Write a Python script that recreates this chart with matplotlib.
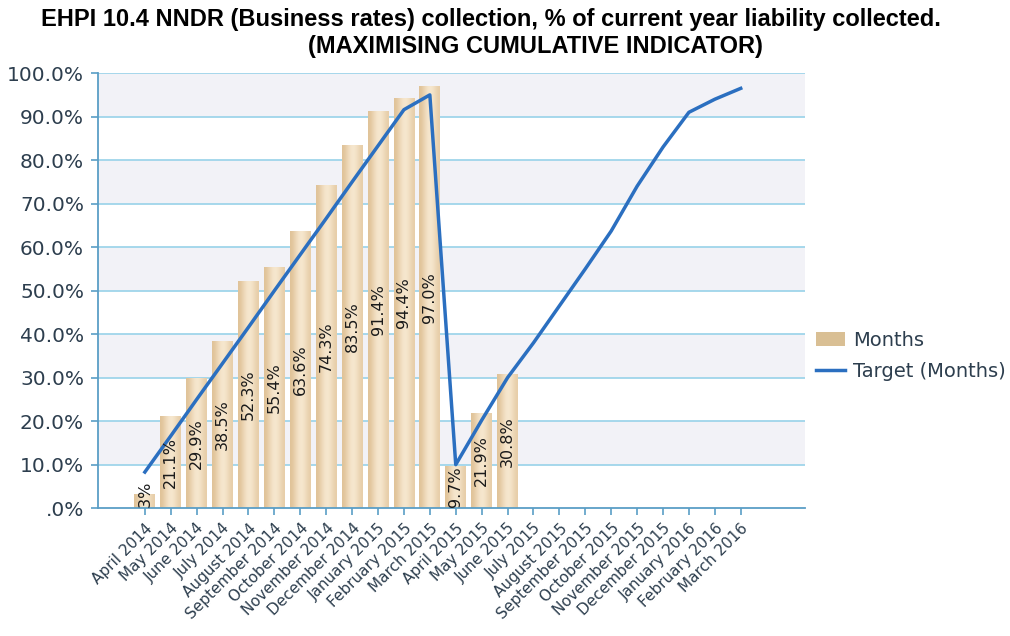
import numpy as np
import matplotlib
matplotlib.use('Agg')
import matplotlib.pyplot as plt
from matplotlib.lines import Line2D
from matplotlib.patches import Patch

months = ['April 2014', 'May 2014', 'June 2014', 'July 2014', 'August 2014',
          'September 2014', 'October 2014', 'November 2014', 'December 2014',
          'January 2015', 'February 2015', 'March 2015', 'April 2015', 'May 2015',
          'June 2015', 'July 2015', 'August 2015', 'September 2015', 'October 2015',
          'November 2015', 'December 2015', 'January 2016', 'February 2016',
          'March 2016']

# collected so far (% of liability), only up to June 2015
collected = [3.3, 21.1, 29.9, 38.5, 52.3, 55.4, 63.6, 74.3, 83.5, 91.4, 94.4, 97.0,
             9.7, 21.9, 30.8]

# cumulative target for each month
target = [8.3, 16.6, 25.0, 33.3, 41.6, 50.0, 58.3, 66.6, 75.0, 83.3, 91.6, 95.0,
          10.0, 20.2, 30.0, 38.0, 46.5, 55.0, 63.7, 74.0, 83.0, 91.0, 94.0, 96.5]

yticks = [0, 10, 20, 30, 40, 50, 60, 70, 80, 90, 100]
ytick_labels = ['.0%', '10.0%', '20.0%', '30.0%', '40.0%', '50.0%', '60.0%',
                '70.0%', '80.0%', '90.0%', '100.0%']

text_col = '#2d3e4e'
axis_col = '#5a9ec6'
grid_col = '#9fd5ea'

fig = plt.figure(figsize=(10.1, 6.36), dpi=100)
ax = fig.add_axes([0.097, 0.201, 0.700, 0.684])

x = np.arange(len(months))
xb = x[:len(collected)]

# alternating background bands
for lo in range(10, 100, 20):
    ax.axhspan(lo, lo + 10, color='#f2f2f7', zorder=0, lw=0)
for yv in yticks[1:]:
    ax.axhline(yv, color=grid_col, lw=1.3, zorder=1)

bars = ax.bar(xb, collected, width=0.8, color='#ecd6b2', lw=0, zorder=2)

# horizontal shading inside each bar
grad = np.array([[0.0, 0.35, 0.75, 1.0, 0.9, 0.6, 0.3]])
cmap = matplotlib.colors.LinearSegmentedColormap.from_list('tan', ['#e0c398', '#f7e8d0'])
for b in bars:
    x0, w, h = b.get_x(), b.get_width(), b.get_height()
    im = ax.imshow(grad, cmap=cmap, vmin=0, vmax=1, aspect='auto',
                   extent=[x0, x0 + w, 0, h], zorder=2.1, interpolation='bicubic')
    im.set_clip_path(b)

line, = ax.plot(x, target, color='#2b6fc0', lw=2.5, zorder=4)

for xi, v in zip(xb, collected):
    ax.text(xi, v / 2, f'{v:.1f}%', rotation=90, ha='center', va='center',
            fontsize=11.5, color='#1a1a1a', zorder=5, clip_on=True)

ax.set_xlim(-1.81, 25.48)
ax.set_ylim(0, 100)
ax.set_yticks(yticks)
ax.set_yticklabels(ytick_labels, fontsize=14.5, color=text_col)
ax.set_xticks(x)
ax.set_xticklabels(months, rotation=45, ha='right', rotation_mode='anchor',
                   fontsize=11, color=text_col)

for s in ['top', 'right']:
    ax.spines[s].set_visible(False)
for s in ['left', 'bottom']:
    ax.spines[s].set_color(axis_col)
    ax.spines[s].set_linewidth(1.3)
ax.tick_params(axis='both', colors=axis_col, length=5, width=1.2, labelcolor=text_col)
ax.tick_params(axis='y', pad=5)
ax.tick_params(axis='x', pad=4)

handles = [Patch(facecolor='#d9bf94', edgecolor='none'),
           Line2D([], [], color='#2b6fc0', lw=2.5)]
ax.legend(handles, ['Months', 'Target (Months)'], loc='center left',
          bbox_to_anchor=(1.005, 0.35), frameon=False, fontsize=14,
          labelcolor=text_col, handlelength=1.5, handletextpad=0.4,
          labelspacing=0.6, borderaxespad=0.0)

title_font = ['Liberation Sans', 'DejaVu Sans']
fig.text(0.486, 0.970, 'EHPI 10.4 NNDR (Business rates) collection, % of current year liability collected.',
         ha='center', va='center', fontsize=17, fontweight='bold', family=title_font)
fig.text(0.530, 0.927, '(MAXIMISING CUMULATIVE INDICATOR)',
         ha='center', va='center', fontsize=17, fontweight='bold', family=title_font)

fig.savefig('out.png', dpi=100)
